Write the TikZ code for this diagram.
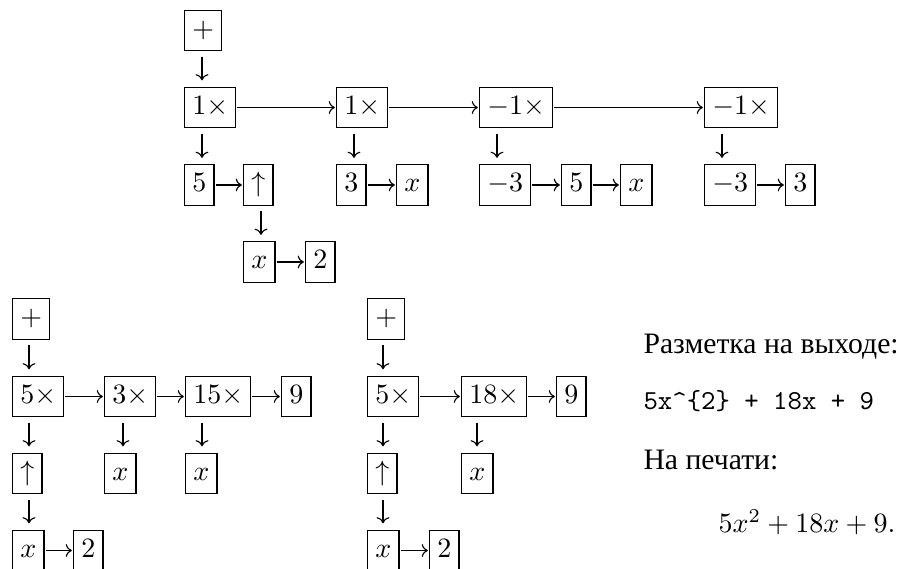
\documentclass[tikz,border=0pt]{standalone}
\usepackage{fontspec}
\newfontfamily\cyrfont{Liberation Serif}
\usetikzlibrary{calc,arrows.meta}
\begin{document}
\begin{tikzpicture}[x=0.3571pt, y=-0.3571pt,
  box/.style={draw, line width=0.4pt, inner sep=2.75pt,
    text height=6.94pt, text depth=1.94pt, anchor=west},
  tip/.style={-{To[length=2.2pt,width=4.6pt]}, line width=0.4pt},
  harr/.style={tip, shorten <=0.4pt, shorten >=0.4pt},
  varr/.style={tip, shorten <=1.9pt, shorten >=2.3pt},
  txt/.style={anchor=base west, inner sep=0pt}]
\useasboundingbox (0,0) rectangle (906,569);

% ---- upper tree: 5x^2 + 3x - 3*5x - 3*3 ----
\node[box] (p1) at (184,30.5) {$+$};
\node[box] (m1) at (184,107.5) {$1\times$};
\node[box] (m2) at (336,107.5) {$1\times$};
\node[box] (m3) at (479,107.5) {$-1\times$};
\node[box] (m4) at (704,107.5) {$-1\times$};
\node[box] (a5) at (184,185) {$5$};
\node[box] (aup) at (243,185) {$\uparrow$};
\node[box] (b3) at (336,185) {$3$};
\node[box] (bx) at (396,185) {$x$};
\node[box] (c3) at (479,185) {$-3$};
\node[box] (c5) at (561,185) {$5$};
\node[box] (cx) at (620,185) {$x$};
\node[box] (d3) at (704,185) {$-3$};
\node[box] (d3b) at (785,185) {$3$};
\node[box] (ax) at (243,262) {$x$};
\node[box] (a2) at (305,262) {$2$};

\draw[varr] ($(p1.south west)+(18,0)$) -- ($(m1.north west)+(18,0)$);
\draw[harr] (m1) -- (m2);
\draw[harr] (m2) -- (m3);
\draw[harr] (m3) -- (m4);
\draw[varr] ($(m1.south west)+(18,0)$) -- ($(a5.north west)+(18,0)$);
\draw[varr] ($(m2.south west)+(18,0)$) -- ($(b3.north west)+(18,0)$);
\draw[varr] ($(m3.south west)+(18,0)$) -- ($(c3.north west)+(18,0)$);
\draw[varr] ($(m4.south west)+(18,0)$) -- ($(d3.north west)+(18,0)$);
\draw[harr] (a5) -- (aup);
\draw[harr] (b3) -- (bx);
\draw[harr] (c3) -- (c5);
\draw[harr] (c5) -- (cx);
\draw[harr] (d3) -- (d3b);
\draw[varr] ($(aup.south west)+(18,0)$) -- ($(ax.north west)+(18,0)$);
\draw[harr] (ax) -- (a2);

% ---- lower left: after collecting like terms ----
\node[box] (p2) at (12,319) {$+$};
\node[box] (e5) at (12,396.5) {$5\times$};
\node[box] (e3) at (104,396.5) {$3\times$};
\node[box] (e15) at (185,396.5) {$15\times$};
\node[box] (e9) at (281,396.5) {$9$};
\node[box] (eup) at (12,473.5) {$\uparrow$};
\node[box] (ex1) at (104,473.5) {$x$};
\node[box] (ex2) at (185,473.5) {$x$};
\node[box] (exx) at (12,550.5) {$x$};
\node[box] (e2) at (73,550.5) {$2$};

\draw[varr] ($(p2.south west)+(17,0)$) -- ($(e5.north west)+(17,0)$);
\draw[harr] (e5) -- (e3);
\draw[harr] (e3) -- (e15);
\draw[harr] (e15) -- (e9);
\draw[varr] ($(e5.south west)+(17,0)$) -- ($(eup.north west)+(17,0)$);
\draw[varr] ($(e3.south west)+(19,0)$) -- ($(ex1.north west)+(19,0)$);
\draw[varr] ($(e15.south west)+(17,0)$) -- ($(ex2.north west)+(17,0)$);
\draw[varr] ($(eup.south west)+(17,0)$) -- ($(exx.north west)+(17,0)$);
\draw[harr] (exx) -- (e2);

% ---- lower right: final form ----
\node[box] (p3) at (367,319) {$+$};
\node[box] (f5) at (367,396.5) {$5\times$};
\node[box] (f18) at (461,396.5) {$18\times$};
\node[box] (f9) at (556,396.5) {$9$};
\node[box] (fup) at (367,473.5) {$\uparrow$};
\node[box] (fx) at (461,473.5) {$x$};
\node[box] (fxx) at (367,550.5) {$x$};
\node[box] (f2) at (429,550.5) {$2$};

\draw[varr] ($(p3.south west)+(16,0)$) -- ($(f5.north west)+(16,0)$);
\draw[harr] (f5) -- (f18);
\draw[harr] (f18) -- (f9);
\draw[varr] ($(f5.south west)+(16,0)$) -- ($(fup.north west)+(16,0)$);
\draw[varr] ($(f18.south west)+(16,0)$) -- ($(fx.north west)+(16,0)$);
\draw[varr] ($(fup.south west)+(16,0)$) -- ($(fxx.north west)+(16,0)$);
\draw[harr] (fxx) -- (f2);

% ---- output text ----
\node[txt] (t1) at (643,354) {\cyrfont\fontsize{10.6pt}{13pt}\selectfont Разметка на выходе:};
\node[txt] (t2) at (643,410) {\fontsize{9.8pt}{12pt}\selectfont\texttt{5x\textasciicircum\{2\} + 18x + 9}};
\node[txt] (t3) at (643,470) {\cyrfont\fontsize{10.6pt}{13pt}\selectfont На печати:};
\node[txt] (t4) at (718,533) {$5x^2+18x+9.$};
\end{tikzpicture}
\end{document}
